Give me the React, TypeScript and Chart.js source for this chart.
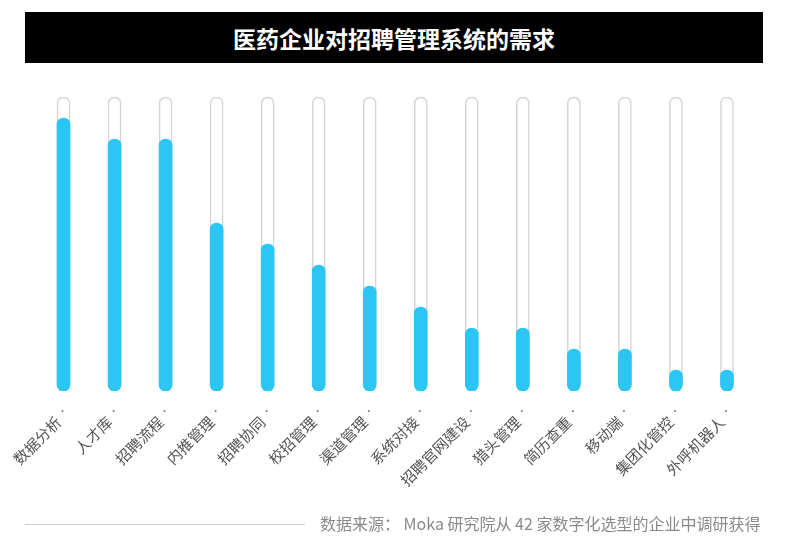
import React, { useEffect, useRef } from "react";
import { Chart, registerables } from "chart.js";

Chart.register(...registerables);

const title = "医药企业对招聘管理系统的需求";
const categories = [
  "数据分析", "人才库", "招聘流程", "内推管理", "招聘协同", "校招管理", "渠道管理",
  "系统对接", "招聘官网建设", "猎头管理", "简历查重", "移动端", "集团化管控", "外呼机器人",
];
const values = [39, 36, 36, 24, 21, 18, 15, 12, 9, 9, 6, 6, 3, 3];
const totalCompanies = 42;
const trackValues = categories.map(() => totalCompanies);
const sourceText = "数据来源： Moka 研究院从 42 家数字化选型的企业中调研获得";

const FONT = "'Noto Sans CJK SC', 'Noto Sans', sans-serif";

const tickDots = {
  id: "tickDots",
  afterDraw(chart: any) {
    const { ctx, chartArea } = chart;
    const xs = chart.scales.x;
    ctx.save();
    ctx.fillStyle = "#777";
    for (let i = 0; i < categories.length; i++) {
      const x = xs.getPixelForTick(i);
      ctx.beginPath();
      ctx.arc(x - 1, chartArea.bottom + 20, 1, 0, Math.PI * 2);
      ctx.fill();
    }
    ctx.restore();
  },
};

export default function App() {
  const ref = useRef<HTMLCanvasElement>(null);
  useEffect(() => {
    document.body.style.margin = "0";
    const chart = new Chart(ref.current!, {
      type: "bar",
      data: {
        labels: categories,
        datasets: [
          {
            data: values,
            backgroundColor: "#2cc6f5",
            borderWidth: 0,
            borderRadius: 7,
            borderSkipped: false,
            barThickness: 13,
            grouped: false,
          },
          {
            data: trackValues,
            backgroundColor: "#ffffff",
            borderColor: "#d4d4d4",
            borderWidth: 1.5,
            borderRadius: 7,
            borderSkipped: false,
            barThickness: 13,
            grouped: false,
          },
        ],
      },
      options: {
        animation: false,
        responsive: false,
        maintainAspectRatio: false,
        layout: { padding: { top: 97, left: 38, right: 40.5, bottom: 0 } },
        plugins: { legend: { display: false }, tooltip: { enabled: false }, title: { display: false } },
        scales: {
          x: {
            grid: { display: false },
            border: { display: false },
            ticks: {
              autoSkip: false,
              maxRotation: 45,
              minRotation: 45,
              color: "#555",
              padding: 14,
              labelOffset: -5,
              font: { size: 15, family: FONT },
            },
            afterFit: (s: any) => {
              s.height = 154;
            },
          },
          y: { display: false, min: 0, max: totalCompanies },
        },
      },
      plugins: [tickDots],
    });
    return () => chart.destroy();
  }, []);

  return (
    <div style={{ position: "relative", width: 793, height: 545, background: "#fff", fontFamily: FONT }}>
      <canvas ref={ref} width={793} height={545} style={{ position: "absolute", left: 0, top: 0 }} />
      <div
        style={{
          position: "absolute", left: 25, top: 12, width: 738, height: 51, background: "#000",
          color: "#fff", fontSize: 23, fontWeight: 700, display: "flex", alignItems: "center", justifyContent: "center",
        }}
      >
        {title}
      </div>
      <div style={{ position: "absolute", left: 25, top: 524, width: 280, height: 1, background: "#cfcfcf" }} />
      <div style={{ position: "absolute", left: 320, top: 512, fontSize: 16, color: "#8a8a8a", whiteSpace: "pre", lineHeight: "22px" }}>
        {sourceText}
      </div>
    </div>
  );
}
